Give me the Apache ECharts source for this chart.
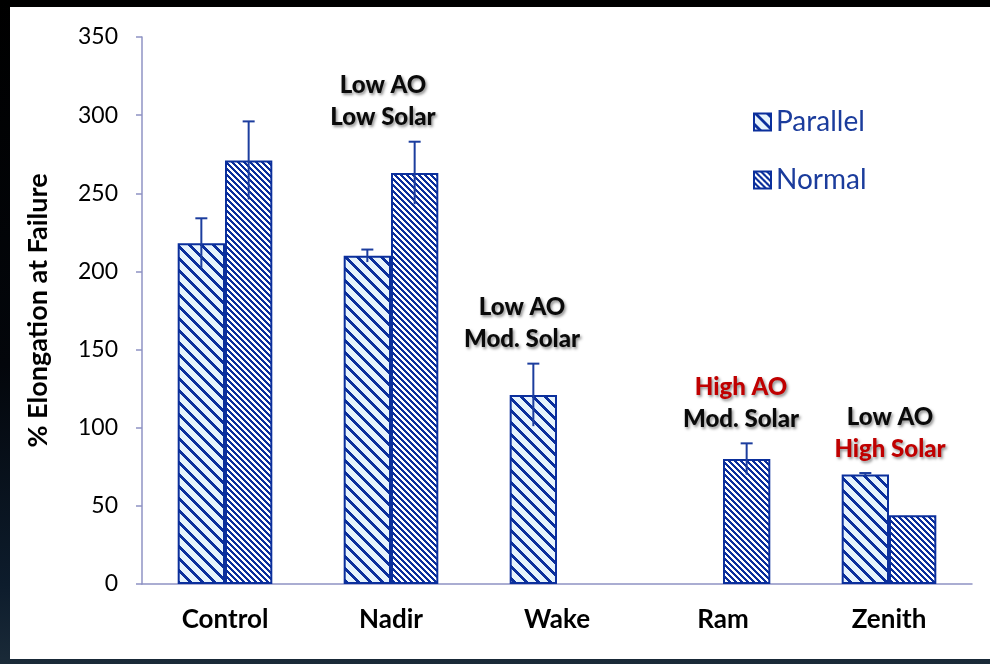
<!DOCTYPE html>
<html>
<head>
<meta charset="utf-8">
<script src="https://cdn.jsdelivr.net/npm/echarts@6/dist/echarts.min.js"></script>
<style>
  html, body { margin: 0; padding: 0; }
  body {
    width: 990px; height: 664px; overflow: hidden; position: relative;
    background: linear-gradient(to bottom, #000000 0%, #03060b 55%, #0d1c2c 88%, #1a2a38 100%);
  }
  #chart {
    position: absolute; left: 10px; top: 7px; width: 980px; height: 652px;
    background: #ffffff;
  }
</style>
</head>
<body>
<div id="chart"></div>
<script>
// Elongation at failure by exposure location
const categories = ['Control', 'Nadir', 'Wake', 'Ram', 'Zenith'];
const parallel    = [218, 210, 121, null, 70];
const parallelErr = [16, 4, 20, null, 1];
const normal      = [271, 263, null, 80, 44];
const normalErr   = [25, 20, null, 10, null];
const yTicks = { min: 0, max: 350, step: 50 };

// Environment notes written above each exposure group
const notes = [
  { cat: 'Nadir',  lines: [['Low AO', false], ['Low Solar', false]] },
  { cat: 'Wake',   lines: [['Low AO', false], ['Mod. Solar', false]] },
  { cat: 'Ram',    lines: [['High AO', true], ['Mod. Solar', false]] },
  { cat: 'Zenith', lines: [['Low AO', false], ['High Solar', true]] }
];
const noteShift = { Nadir: -8, Wake: -35, Ram: 18, Zenith: 1 };

const NAVY = '#0b2f9c';
const BAR_GAP = 0.43;

// Diagonal hatch tiles
function hatch(size, width, bg, fg) {
  const c = document.createElement('canvas');
  c.width = size; c.height = size;
  const ctx = c.getContext('2d');
  const img = ctx.createImageData(size, size);
  const parse = h => [parseInt(h.slice(1,3),16), parseInt(h.slice(3,5),16), parseInt(h.slice(5,7),16)];
  const b = parse(bg), f = parse(fg);
  for (let y = 0; y < size; y++) {
    for (let x = 0; x < size; x++) {
      const on = (((x - y) % size) + size) % size < width;
      const col = on ? f : b;
      const i = (y * size + x) * 4;
      img.data[i] = col[0]; img.data[i+1] = col[1]; img.data[i+2] = col[2]; img.data[i+3] = 255;
    }
  }
  ctx.putImageData(img, 0, 0);
  return c;
}
const wideHatch = { image: hatch(12, 4, '#e6f3fc', NAVY), repeat: 'repeat' };
const fineHatch = { image: hatch(6, 3, '#ffffff', NAVY), repeat: 'repeat' };

const fontFam = 'Lato, "Open Sans", sans-serif';

function errorSeries(values, errs, side) {
  const data = [];
  values.forEach((v, i) => { if (v != null && errs[i] != null) data.push([i, v, errs[i]]); });
  return {
    type: 'custom',
    z: 5,
    silent: true,
    data: data,
    renderItem: function (params, api) {
      const i = api.value(0), v = api.value(1), e = api.value(2);
      const band = api.size([1, 0])[0];
      const barW = band * (1 - BAR_GAP) / 2;
      const base = api.coord([i, v]);
      const x = base[0] + side * barW / 2;
      const top = api.coord([i, v + e])[1];
      const bot = api.coord([i, v - e])[1];
      const st = { stroke: '#1c3d9e', lineWidth: 2 };
      return {
        type: 'group',
        children: [
          { type: 'line', shape: { x1: x, y1: top, x2: x, y2: bot }, style: st },
          { type: 'line', shape: { x1: x - 6, y1: top, x2: x + 6, y2: top }, style: st }
        ]
      };
    }
  };
}

// Top of the tallest error bar in each category anchors its note
const noteData = notes.map(n => {
  const i = categories.indexOf(n.cat);
  const tops = [];
  if (parallel[i] != null) tops.push(parallel[i] + (parallelErr[i] || 0));
  if (normal[i] != null) tops.push(normal[i] + (normalErr[i] || 0));
  return [i, Math.max.apply(null, tops)];
});

const chart = echarts.init(document.getElementById('chart'), null, { renderer: 'canvas' });
chart.setOption({
  animation: false,
  backgroundColor: '#ffffff',
  grid: { left: 132, right: 18, top: 30, bottom: 75 },
  legend: {
    data: ['Parallel', 'Normal'],
    orient: 'vertical',
    left: 738, top: 96,
    itemWidth: 17, itemHeight: 17,
    itemGap: 30,
    icon: 'rect',
    textStyle: { color: '#1b3c9c', fontSize: 28, fontFamily: fontFam }
  },
  xAxis: {
    type: 'category',
    data: categories,
    axisLine: { lineStyle: { color: '#8f93c4', width: 1.5 } },
    axisTick: { length: 8, lineStyle: { color: '#8f93c4', width: 1.5 } },
    axisLabel: { color: '#000', fontSize: 26, fontWeight: 'bold', fontFamily: fontFam, margin: 23 }
  },
  yAxis: {
    type: 'value',
    min: yTicks.min, max: yTicks.max, interval: yTicks.step,
    name: '% Elongation at Failure',
    nameLocation: 'middle',
    nameGap: 90,
    nameTextStyle: { color: '#000', fontSize: 27, fontWeight: 'bold', fontFamily: fontFam },
    splitLine: { show: false },
    axisLine: { show: true, lineStyle: { color: '#8f93c4', width: 1.5 } },
    axisTick: { show: true, length: 6, lineStyle: { color: '#8f93c4', width: 1.5 } },
    axisLabel: { color: '#000', fontSize: 23, fontFamily: fontFam, margin: 24 }
  },
  series: [
    {
      name: 'Parallel', type: 'bar', data: parallel,
      barGap: 0, barCategoryGap: (BAR_GAP * 100) + '%',
      itemStyle: { color: wideHatch, borderColor: NAVY, borderWidth: 2 }
    },
    {
      name: 'Normal', type: 'bar', data: normal,
      barGap: 0, barCategoryGap: (BAR_GAP * 100) + '%',
      itemStyle: { color: fineHatch, borderColor: NAVY, borderWidth: 2 }
    },
    errorSeries(parallel, parallelErr, -1),
    errorSeries(normal, normalErr, 1),
    {
      type: 'custom',
      z: 6,
      silent: true,
      data: noteData,
      renderItem: function (params, api) {
        const n = notes[params.dataIndex];
        const p = api.coord([api.value(0), api.value(1)]);
        const x = p[0] + noteShift[n.cat];
        const bottom = p[1] - 12;
        const lh = 32;
        const count = n.lines.length;
        return {
          type: 'group',
          children: n.lines.map((ln, k) => ({
            type: 'text',
            style: {
              text: ln[0],
              x: x,
              y: bottom - (count - 1 - k) * lh,
              textAlign: 'center',
              textVerticalAlign: 'bottom',
              fill: ln[1] ? '#c00000' : '#0a0a0a',
              font: '900 24px ' + fontFam,
              textShadowColor: 'rgba(0,0,0,0.45)',
              textShadowBlur: 3,
              textShadowOffsetX: 1.5,
              textShadowOffsetY: 2
            }
          }))
        };
      }
    }
  ]
});
</script>
</body>
</html>
